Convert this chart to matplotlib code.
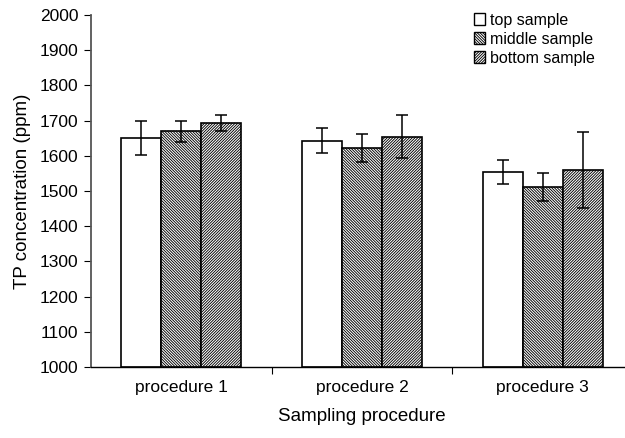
import numpy as np
import matplotlib.pyplot as plt
from matplotlib.patches import Patch

plt.rcParams['font.family'] = ['Liberation Sans', 'DejaVu Sans']
plt.rcParams['hatch.linewidth'] = 0.65

# data
procedures = ['procedure 1', 'procedure 2', 'procedure 3']
series = ['top sample', 'middle sample', 'bottom sample']
top_vals = [1651, 1643, 1554]
middle_vals = [1670, 1622, 1511]
bottom_vals = [1693, 1654, 1560]
top_err = [49, 35, 35]
middle_err = [30, 39, 40]
bottom_err = [22, 61, 108]

values = [top_vals, middle_vals, bottom_vals]
errors = [top_err, middle_err, bottom_err]
hatches = [None, '\\' * 12, '/' * 12]

fig = plt.figure(figsize=(6.25, 4.38), dpi=100)
ax = fig.add_axes([0.1456, 0.162, 0.8672, 0.8037])

x = np.arange(len(procedures))
width = 0.221
for i, (vals, errs, h) in enumerate(zip(values, errors, hatches)):
    pos = x + (i - 1) * width
    ax.bar(pos, [v - 1000 for v in vals], width, bottom=1000, color='white',
           edgecolor='black', linewidth=1.2, hatch=h, zorder=2)
    ax.errorbar(pos, vals, yerr=errs, fmt='none', ecolor='black',
                elinewidth=1.1, capsize=4, capthick=1.1, zorder=3)

ax.set_xlim(-0.5, 2.5)
ax.set_ylim(1000, 2000)
ax.set_yticks(np.arange(1000, 2001, 100))

# category boundaries as ticks, labels at centres
ax.set_xticks([0.5, 1.5])
ax.set_xticklabels([])
ax.set_xticks(x, minor=True)
ax.set_xticklabels(procedures, minor=True)
ax.tick_params(axis='x', which='minor', length=0, labelsize=12.5, pad=9)
ax.tick_params(axis='x', which='major', length=5, direction='out')
ax.tick_params(axis='y', length=5, direction='out', labelsize=12.5, pad=4)

for side in ['top', 'right']:
    ax.spines[side].set_visible(False)
ax.spines['left'].set_color('#555555')
ax.spines['left'].set_linewidth(1.3)
ax.spines['bottom'].set_linewidth(1.0)

ax.set_ylabel('TP concentration (ppm)', fontsize=13.5, labelpad=6)
ax.set_xlabel('Sampling procedure', fontsize=13.5, labelpad=10)

handles = [Patch(facecolor='white', edgecolor='black', hatch=h, linewidth=1.0)
           for h in hatches]
ax.legend(handles, series, loc='upper left', bbox_to_anchor=(0.695, 1.025),
          frameon=False, fontsize=11.5, handlelength=0.7, handleheight=0.7,
          handletextpad=0.3, labelspacing=0.25, borderaxespad=0)

fig.savefig('out.png', dpi=100)
